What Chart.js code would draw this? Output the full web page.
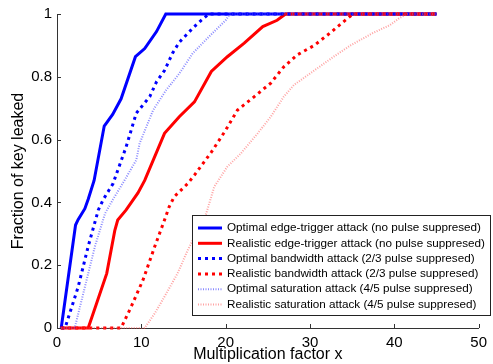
<!DOCTYPE html>
<html>
<head>
<meta charset="utf-8">
<script src="https://cdn.jsdelivr.net/npm/chart.js@4/dist/chart.umd.min.js"></script>
<style>
    html, body { margin: 0; padding: 0; background: #fff; }
</style>
</head>
<body>
<canvas id="chart" width="493" height="364"></canvas>
<script>
// Series: x = multiplication factor, y = fraction of key leaked
const optEdgeX = [0.5, 2.2, 2.5, 3.3, 3.7, 4.4, 5.6, 6.6, 7.6, 9.3, 10.4, 11.8, 12.9, 45];
const optEdgeY = [0, 0.328, 0.345, 0.38, 0.41, 0.47, 0.643, 0.68, 0.73, 0.864, 0.89, 0.944, 1, 1];

const realEdgeX = [0.4, 3.7, 4.7, 5.9, 6.85, 7.2, 8.2, 9.6, 10.4, 12.75, 14.5, 16.3, 18.3, 20.2, 22.2, 24.4, 26.1, 27.1, 45];
const realEdgeY = [0, 0, 0.079, 0.174, 0.31, 0.344, 0.376, 0.43, 0.47, 0.62, 0.673, 0.72, 0.817, 0.864, 0.907, 0.96, 0.98, 1, 1];

const optBwX = [0.5, 0.95, 2.5, 3.7, 4.9, 5.5, 6.65, 7.0, 8.2, 9.4, 11.0, 11.8, 12.75, 13.7, 14.5, 16.1, 17.1, 18, 45];
const optBwY = [0, 0, 0.13, 0.26, 0.376, 0.41, 0.46, 0.487, 0.577, 0.684, 0.737, 0.784, 0.82, 0.875, 0.91, 0.955, 0.98, 1, 1];

const realBwX = [0.5, 7.6, 8.8, 10.2, 11.6, 12.75, 13.3, 13.9, 15.5, 16.3, 18.3, 20.0, 21.4, 23.4, 25.35, 26.9, 28.5, 30.5, 32.4, 34.0, 35.1, 45];
const realBwY = [0, 0, 0.068, 0.153, 0.26, 0.344, 0.386, 0.418, 0.46, 0.487, 0.56, 0.63, 0.694, 0.737, 0.78, 0.832, 0.87, 0.9, 0.94, 0.976, 1, 1];

const optSatX = [0.5, 2.1, 3.3, 4.5, 5.7, 6.65, 8.0, 9.4, 9.8, 11.4, 12.95, 14.5, 16.1, 18.1, 20.0, 20.5, 45];
const optSatY = [0, 0, 0.13, 0.26, 0.365, 0.41, 0.47, 0.535, 0.588, 0.694, 0.758, 0.81, 0.875, 0.93, 0.98, 1, 1];

const realSatX = [0.5, 10.4, 11.6, 12.75, 14.3, 15.5, 17.7, 18.65, 20.2, 21.8, 23.8, 25.35, 26.9, 28.1, 30.5, 32.8, 34.8, 37.5, 39.5, 40.5, 41.5, 45];
const realSatY = [0, 0, 0.047, 0.1, 0.174, 0.248, 0.365, 0.45, 0.514, 0.556, 0.62, 0.673, 0.737, 0.774, 0.82, 0.864, 0.9, 0.94, 0.965, 0.985, 1, 1];

const seriesLabels = [
    "Optimal edge-trigger attack (no pulse suppresed)",
    "Realistic edge-trigger attack (no pulse suppresed)",
    "Optimal bandwidth attack (2/3 pulse suppresed)",
    "Realistic bandwidth attack (2/3 pulse suppresed)",
    "Optimal saturation attack (4/5 pulse suppresed)",
    "Realistic saturation attack (4/5 pulse suppresed)",
];

const xTicks = [0, 10, 20, 30, 40, 50];
const yTicks = [0, 0.2, 0.4, 0.6, 0.8, 1];

const FONT = "'Liberation Sans', Arial, sans-serif";

const toPoints = (xs, ys) => xs.map((x, i) => ({ x: x, y: ys[i] }));

const STYLES = [
    { color: "#0000ff", width: 3, dash: [] },
    { color: "#ff0000", width: 3, dash: [] },
    { color: "#0000ff", width: 3, dash: [3, 4] },
    { color: "#ff0000", width: 3, dash: [3, 4] },
    { color: "rgba(60, 60, 255, 0.6)", width: 2, dash: [1, 1.5] },
    { color: "rgba(255, 70, 70, 0.5)", width: 2, dash: [1, 1.5] },
];

const seriesData = [
    toPoints(optEdgeX, optEdgeY),
    toPoints(realEdgeX, realEdgeY),
    toPoints(optBwX, optBwY),
    toPoints(realBwX, realBwY),
    toPoints(optSatX, optSatY),
    toPoints(realSatX, realSatY),
];

// matlab style ticks pointing into the axes
const innerTicks = {
    id: "innerTicks",
    afterDraw(chart) {
        const { ctx, chartArea, scales } = chart;
        ctx.save();
        ctx.strokeStyle = "#333";
        ctx.lineWidth = 1;
        ctx.beginPath();
        xTicks.forEach((v) => {
            const px = Math.round(scales.x.getPixelForValue(v)) + 0.5;
            ctx.moveTo(px, chartArea.bottom);
            ctx.lineTo(px, chartArea.bottom - 4);
        });
        yTicks.forEach((v) => {
            const py = Math.round(scales.y.getPixelForValue(v)) + 0.5;
            ctx.moveTo(chartArea.left, py);
            ctx.lineTo(chartArea.left + 4, py);
        });
        ctx.stroke();
        ctx.restore();
    },
};

// boxed legend inside the lower right corner
const legendBox = {
    id: "legendBox",
    afterDraw(chart) {
        const { ctx, chartArea } = chart;
        const right = chart.width - 2;
        const left = chartArea.left + 135;
        const top = chartArea.bottom - 113;
        const bottom = chartArea.bottom - 12;
        ctx.save();
        ctx.fillStyle = "#fff";
        ctx.fillRect(left, top, right - left, bottom - top);
        ctx.strokeStyle = "#222";
        ctx.lineWidth = 1;
        ctx.strokeRect(left + 0.5, top + 0.5, right - left - 1, bottom - top - 1);
        ctx.font = "11.7px " + FONT;
        ctx.textBaseline = "middle";
        chart.data.datasets.forEach((ds, i) => {
            const y = top + 13 + i * 15.3;
            ctx.strokeStyle = ds.borderColor;
            ctx.lineWidth = ds.borderWidth;
            ctx.setLineDash(ds.borderDash);
            ctx.beginPath();
            ctx.moveTo(left + 6, y);
            ctx.lineTo(left + 30, y);
            ctx.stroke();
            ctx.setLineDash([]);
            ctx.fillStyle = "#000";
            ctx.fillText(ds.label, left + 35, y);
        });
        ctx.restore();
    },
};

new Chart(document.getElementById("chart"), {
    type: "scatter",
    data: {
        datasets: seriesData.map((pts, i) => ({
            label: seriesLabels[i],
            data: pts,
            showLine: true,
            borderColor: STYLES[i].color,
            borderWidth: STYLES[i].width,
            borderDash: STYLES[i].dash,
            pointRadius: 0,
            tension: 0,
            clip: 4,
            order: seriesData.length - i, // later series drawn on top
        })),
    },
    options: {
        responsive: false,
        animation: false,
        layout: { padding: { left: 0, top: 14, right: 12, bottom: 0 } },
        plugins: {
            legend: { display: false },
            tooltip: { enabled: false },
        },
        scales: {
            x: {
                type: "linear",
                min: 0,
                max: 50,
                afterBuildTicks: (axis) => {
                    axis.ticks = xTicks.map((v) => ({ value: v }));
                },
                afterFit: (axis) => {
                    axis.height = 36;
                },
                grid: { display: false, drawTicks: false },
                border: { color: "#333", width: 1 },
                ticks: {
                    color: "#000",
                    font: { family: FONT, size: 15 },
                    padding: 6,
                    maxRotation: 0,
                },
                title: {
                    display: true,
                    text: "Multiplication factor x",
                    color: "#000",
                    font: { family: FONT, size: 16 },
                    padding: { top: 0, bottom: 0 },
                },
            },
            y: {
                type: "linear",
                min: 0,
                max: 1,
                afterBuildTicks: (axis) => {
                    axis.ticks = yTicks.map((v) => ({ value: v }));
                },
                afterFit: (axis) => {
                    axis.width = 57;
                },
                grid: { display: false, drawTicks: false },
                border: { color: "#333", width: 1 },
                ticks: {
                    color: "#000",
                    font: { family: FONT, size: 15 },
                    padding: 5,
                    callback: (v) => String(Math.round(v * 10) / 10),
                },
                title: {
                    display: true,
                    text: "Fraction of key leaked",
                    color: "#000",
                    font: { family: FONT, size: 16 },
                    padding: { top: 9, bottom: 0 },
                },
            },
        },
    },
    plugins: [innerTicks, legendBox],
});
</script>
</body>
</html>
